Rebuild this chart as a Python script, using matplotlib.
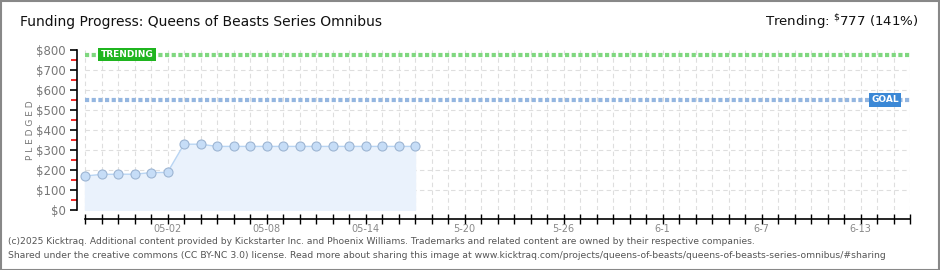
import numpy as np
import matplotlib.pyplot as plt
from matplotlib.patches import Rectangle

# days since 04-27, one point per day
days = list(range(21))
pledged = [170, 178, 179, 179, 187, 188, 329, 329, 318, 318, 318, 318, 318,
           318, 318, 318, 318, 318, 318, 318, 318]
goal = 550
trending = 777
tick_days = list(range(51))
label_days = [5, 11, 17, 23, 29, 35, 41, 47]
label_text = ['05-02', '05-08', '05-14', '5-20', '5-26', '6-1', '6-7', '6-13']

plt.rcParams['font.family'] = ['DejaVu Sans']
plt.rcParams['mathtext.default'] = 'regular'

fig = plt.figure(figsize=(9.4, 2.7), dpi=100)
W, H = 940, 270
ax = fig.add_axes([77 / W, 60 / H, 833 / W, 160 / H])

ax.set_xlim(-0.485, 50)
ax.set_ylim(0, 800)

# grid
for d in tick_days:
    ax.axvline(d, color='#dedede', lw=0.8, ls=(0, (4, 3)), zorder=0)
for v in range(100, 800, 100):
    ax.plot([0, 50], [v, v], color='#dedede', lw=0.8, ls=(0, (4, 3)), zorder=0)

# goal / trending lines
ax.plot([0, 50], [trending, trending], color='#7fd77f', lw=3, ls=(0, (1, 0.6)), zorder=1)
ax.plot([0, 50], [goal, goal], color='#94b6e0', lw=3, ls=(0, (1, 0.6)), zorder=1)

# data
ax.fill_between(days, pledged, 0, color='#eaf2fc', zorder=2)
ax.plot(days, pledged, color='#b9d5f3', lw=1, zorder=3)
ax.plot(days, pledged, 'o', ms=6.5, mfc='#c6ddf7', mec='#9db5d3', mew=0.8, zorder=4)

# labels on lines
ax.text(0.95, trending, 'TRENDING', color='white', fontsize=6.5, fontweight='bold',
        va='center', ha='left', zorder=6,
        bbox=dict(boxstyle='square,pad=0.25', fc='#1fb51f', ec='none'))
ax.text(47.65, goal, 'GOAL', color='white', fontsize=6.5, fontweight='bold',
        va='center', ha='left', zorder=6,
        bbox=dict(boxstyle='square,pad=0.25', fc='#3b88d6', ec='none'))

# axes styling
for s in ['top', 'right']:
    ax.spines[s].set_visible(False)
ax.spines['left'].set_color('black')
ax.spines['bottom'].set_position(('outward', 6.5))
ax.spines['bottom'].set_bounds(0, 50)
ax.spines['left'].set_linewidth(1.2)
ax.spines['bottom'].set_linewidth(1.2)

ax.set_yticks(range(0, 801, 100))
ax.set_yticklabels(['$%d' % v for v in range(0, 801, 100)], color='#777777', fontsize=8.5)
ax.set_yticks(range(50, 800, 100), minor=True)
ax.tick_params(axis='y', which='major', length=5, width=1.2, color='black', pad=3)
ax.tick_params(axis='y', which='minor', length=4, width=1.2, color='#ee0000')

ax.set_xticks(tick_days)
labels = [''] * len(tick_days)
for d, t in zip(label_days, label_text):
    labels[d] = t
ax.set_xticklabels(labels, color='#888888', fontsize=7)
ax.tick_params(axis='x', which='major', direction='inout', length=7, width=1, color='black', pad=0)

ax.set_ylabel('P L E D G E D', color='#777777', fontsize=6.5, labelpad=1)

# title and header
fig.text(20 / W, 1 - 22 / H, 'Funding Progress: Queens of Beasts Series Omnibus',
         fontsize=10, color='#111111', va='center', ha='left')
fig.text(918 / W, 1 - 22 / H, r'Trending: $^{\$}$777 (141%)',
         fontsize=9.6, color='#111111', va='center', ha='right')

# footer
fig.text(8 / W, 1 - 242 / H,
         '(c)2025 Kicktraq. Additional content provided by Kickstarter Inc. and Phoenix Williams. '
         'Trademarks and related content are owned by their respective companies.',
         fontsize=6.6, color='#555555', va='center', ha='left')
fig.text(8 / W, 1 - 256 / H,
         'Shared under the creative commons (CC BY-NC 3.0) license. Read more about sharing this image at '
         'www.kicktraq.com/projects/queens-of-beasts/queens-of-beasts-series-omnibus/#sharing',
         fontsize=6.7, color='#555555', va='center', ha='left')

# outer frame
fig.patches.append(Rectangle((0.5 / W, 0.5 / H), 1 - 1.5 / W, 1 - 1.5 / H,
                             transform=fig.transFigure, fill=False,
                             ec='#888888', lw=1.5))

fig.savefig('out.png', dpi=100)
